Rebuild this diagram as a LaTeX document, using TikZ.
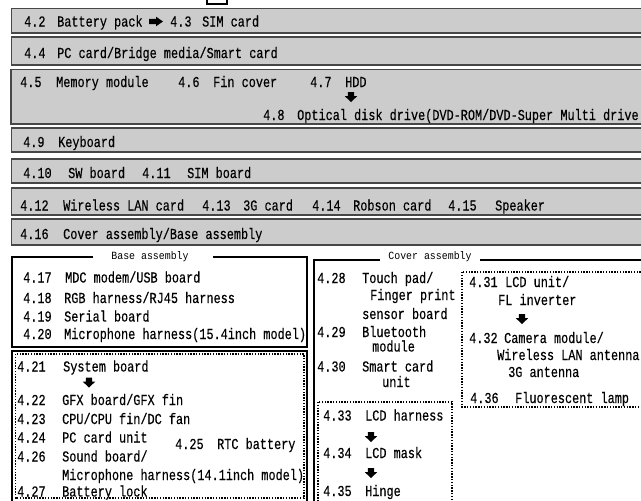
\documentclass[tikz,border=0pt]{standalone}
\usepackage{fontspec}
\newfontfamily\jmono[FakeStretch=0.78,FakeBold=0.3]{Liberation Mono}
\newfontfamily\jmonot[FakeStretch=0.9]{Liberation Mono}
\newcommand\itm[6]{\node[txt] (#1) at (#2,#3) {\makebox[#4pt][l]{#5}#6};}
\tikzset{
  txt/.style={anchor=base west, inner sep=0pt, font=\jmono\fontsize{15.2}{15}\selectfont},
  ttl/.style={anchor=base, inner sep=0pt, font=\jmonot\fontsize{11}{11}\selectfont},
  bar/.style={fill=black!20, draw=black!72, line width=1.5pt},
  frame/.style={draw=black, line width=1.6pt},
  dotbox/.style={draw=black, line width=1.3pt, dash pattern=on 1.4pt off 1.4pt},
  rarrow/.pic={\fill[black] (-7,-2.6) -- (0,-2.6) -- (0,-4.8) -- (7,0) -- (0,4.8) -- (0,2.6) -- (-7,2.6) -- cycle;},
  darrow/.pic={\fill[black] (-3.2,-5) -- (3.2,-5) -- (3.2,-0.8) -- (6.2,-0.8) -- (0,5) -- (-6.2,-0.8) -- (-3.2,-0.8) -- cycle;},
}
\begin{document}
\begin{tikzpicture}[x=1pt,y=-1pt]
\clip (0,0) rectangle (641,501);
% small box at top
\draw[line width=1.5pt] (207,-5) rectangle (227,4);
% bars
\draw[bar] (11.5,8.5) rectangle (660,33);
\draw[bar] (11.5,37) rectangle (660,65);
\draw[bar] (11,69.5) rectangle (660,124);
\draw[bar] (11.5,128) rectangle (660,152);
\draw[bar] (11.5,159) rectangle (660,183);
\draw[bar] (11.5,188) rectangle (660,215);
\draw[bar] (11.5,219) rectangle (660,245);
% bar texts
\itm{b42}{24}{26.5}{33}{4.2}{Battery pack}
\pic at (156,21.5) {rarrow};
\itm{b43}{170}{26.5}{32}{4.3}{SIM card}
\itm{b44}{24}{58}{33}{4.4}{PC card/Bridge media/Smart card}
\itm{b45}{20}{87}{36}{4.5}{Memory module}
\itm{b46}{178}{87}{35}{4.6}{Fin cover}
\itm{b47}{310}{87}{35}{4.7}{HDD}
\pic at (351,97) {darrow};
\itm{b48}{263}{120}{34}{4.8}{Optical disk drive(DVD-ROM/DVD-Super Multi drive}
\itm{b49}{23}{147}{35}{4.9}{Keyboard}
\itm{b410}{23}{178}{45}{4.10}{SW board}
\itm{b411}{142}{178}{45}{4.11}{SIM board}
\itm{b412}{20}{210.5}{43}{4.12}{Wireless LAN card}
\itm{b413}{202}{210.5}{41}{4.13}{3G card}
\itm{b414}{312}{210.5}{41}{4.14}{Robson card}
\itm{b415}{448}{210.5}{47}{4.15}{Speaker}
\itm{b416}{20}{239}{43}{4.16}{Cover assembly/Base assembly}
% base assembly frame
\draw[frame] (93,257) -- (12,257) -- (12,347) -- (307,347) -- (307,257) -- (213,257);
\node[ttl] (tb) at (150,259) {Base assembly};
\itm{i417}{23}{282.5}{42}{4.17}{MDC modem/USB board}
\itm{i418}{23}{303}{41}{4.18}{RGB harness/RJ45 harness}
\itm{i419}{23}{321.5}{41}{4.19}{Serial board}
\itm{i420}{23}{339}{41}{4.20}{Microphone harness(15.4inch model)}
% system board box
\draw[frame] (12,351) rectangle (307,510);
\draw[dotbox] (15.5,354) rectangle (304,498);
\itm{i421}{17}{371.5}{46}{4.21}{System board}
\pic at (89,382.5) {darrow};
\itm{i422}{17}{405}{45}{4.22}{GFX board/GFX fin}
\itm{i423}{17}{424}{45}{4.23}{CPU/CPU fin/DC fan}
\itm{i424}{17}{442.5}{45}{4.24}{PC card unit}
\itm{i425}{175}{449}{42}{4.25}{RTC battery}
\itm{i426}{17}{461.5}{45}{4.26}{Sound board/}
\node[txt] (mic) at (62,480) {Microphone harness(14.1inch model)};
\itm{i427}{17}{496.5}{45}{4.27}{Battery lock}
% cover assembly frame
\draw[frame] (380,260) -- (314,260) -- (314,510);
\draw[frame] (480,260) -- (660,260);
\node[ttl] (tc) at (430,259) {Cover assembly};
\itm{i428}{317}{283}{45}{4.28}{Touch pad/}
\node[txt] (fp) at (370,300) {Finger print};
\node[txt] (sb) at (362,319) {sensor board};
\itm{i429}{317}{337}{45}{4.29}{Bluetooth}
\node[txt] (mo) at (372,351.5) {module};
\itm{i430}{317}{371.5}{45}{4.30}{Smart card}
\node[txt] (un) at (382,387) {unit};
% LCD unit box
\draw[dotbox] (462,272) rectangle (660,407);
\itm{i431}{469}{287}{36}{4.31}{LCD unit/}
\node[txt] (fl) at (498,305) {FL inverter};
\pic at (522,319) {darrow};
\itm{i432}{469}{343}{35}{4.32}{Camera module/}
\node[txt] (wla) at (497,360) {Wireless LAN antenna};
\node[txt] (g3a) at (508,377) {3G antenna};
\itm{i436}{470}{403}{45}{4.36}{Fluorescent lamp}
% LCD harness box
\draw[dotbox] (318,402) rectangle (452,510);
\itm{i433}{323}{420.5}{42}{4.33}{LCD harness}
\pic at (371,437) {darrow};
\itm{i434}{323}{458}{42}{4.34}{LCD mask}
\pic at (371,473) {darrow};
\itm{i435}{323}{496}{42}{4.35}{Hinge}
\end{tikzpicture}
\end{document}
